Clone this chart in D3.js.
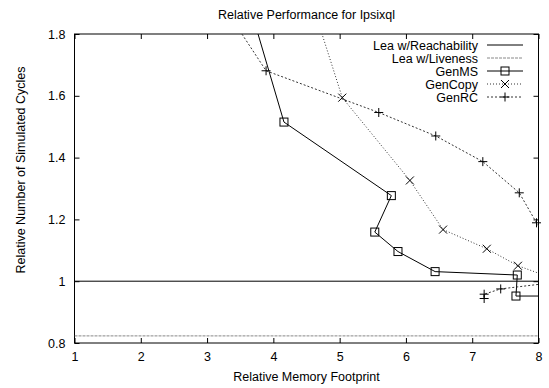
<!DOCTYPE html>
<html>
<head>
<meta charset="utf-8">
<script src="https://cdn.jsdelivr.net/npm/d3@7"></script>
<style>
  body { margin: 0; background: #fff; }
  svg { display: block; font-family: "Liberation Sans", Arial, sans-serif; }
  .tick text { font-size: 12.5px; fill: #000; }
</style>
</head>
<body>
<div id="chart"></div>
<script>
// values (points past the frame are clipped, as gnuplot does)
const xTicks = [1, 2, 3, 4, 5, 6, 7, 8];
const yTicks = [0.8, 1.0, 1.2, 1.4, 1.6, 1.8];

const leaReachability = 1.0;
const leaLiveness = 0.823;

const genMSX = [3.22, 4.16, 5.78, 5.53, 5.88, 6.44, 7.68, 7.66, 8.5];
const genMSY = [2.2, 1.515, 1.277, 1.159, 1.096, 1.031, 1.020, 0.952, 0.952];

const genCopyX = [4.14, 5.04, 6.06, 6.56, 7.22, 7.69, 8.4];
const genCopyY = [2.2, 1.594, 1.326, 1.167, 1.105, 1.05, 0.995];

const genRCX = [2.3, 3.89, 5.59, 6.45, 7.16, 7.71, 7.97, 8.4, 8.4, 7.43, 7.18, 7.18];
const genRCY = [2.2, 1.681, 1.546, 1.47, 1.387, 1.286, 1.189, 1.05, 1.0, 0.975, 0.958, 0.944];

const seriesNames = ["Lea w/Reachability", "Lea w/Liveness", "GenMS", "GenCopy", "GenRC"];

const width = 549, height = 388;
const margin = { top: 34, right: 10.5, bottom: 45, left: 74.5 };
const w = width - margin.left - margin.right;
const h = height - margin.top - margin.bottom;
const fontSize = "12.5px";

const svg = d3.select("#chart").append("svg")
  .attr("width", width)
  .attr("height", height);

svg.append("defs").append("clipPath").attr("id", "clip")
  .append("rect").attr("width", w).attr("height", h);

const g = svg.append("g").attr("transform", `translate(${margin.left},${margin.top})`);

const x = d3.scaleLinear().domain([1, 8]).range([0, w]);
const y = d3.scaleLinear().domain([0.8, 1.8]).range([h, 0]);

const fmt = (d) => String(+d.toFixed(1));

// axes, ticks pointing inwards and mirrored
g.append("g").attr("transform", `translate(0,${h})`)
  .call(d3.axisBottom(x).tickValues(xTicks).tickSize(-5).tickPadding(9).tickFormat(fmt))
  .call((s) => s.select(".domain").remove());
g.append("g")
  .call(d3.axisTop(x).tickValues(xTicks).tickSize(-5).tickFormat(""))
  .call((s) => s.select(".domain").remove());
g.append("g")
  .call(d3.axisLeft(y).tickValues(yTicks).tickSize(-5).tickPadding(9).tickFormat(fmt))
  .call((s) => s.select(".domain").remove());
g.append("g").attr("transform", `translate(${w},0)`)
  .call(d3.axisRight(y).tickValues(yTicks).tickSize(-5).tickFormat(""))
  .call((s) => s.select(".domain").remove());

g.selectAll(".tick line").attr("stroke", "#000");

g.append("rect")
  .attr("width", w).attr("height", h)
  .attr("fill", "none").attr("stroke", "#000").attr("stroke-width", 1);

// titles
svg.append("text")
  .attr("x", margin.left + w / 2).attr("y", 18.5)
  .attr("text-anchor", "middle").style("font-size", fontSize)
  .text("Relative Performance for Ipsixql");
svg.append("text")
  .attr("x", margin.left + w / 2).attr("y", 381)
  .attr("text-anchor", "middle").style("font-size", fontSize)
  .text("Relative Memory Footprint");
svg.append("text")
  .attr("transform", "translate(24.5,170) rotate(-90)")
  .attr("text-anchor", "middle").style("font-size", fontSize)
  .text("Relative Number of Simulated Cycles");

const styles = [
  { stroke: "#000", dash: null },
  { stroke: "#888", dash: "3,1" },
  { stroke: "#000", dash: null },
  { stroke: "#333", dash: "1,2" },
  { stroke: "#333", dash: "2,2" }
];

const plot = g.append("g").attr("clip-path", "url(#clip)");

// constant lines
plot.append("line")
  .attr("x1", x(1)).attr("x2", x(8))
  .attr("y1", y(leaReachability)).attr("y2", y(leaReachability))
  .attr("stroke", styles[0].stroke);
plot.append("line")
  .attr("x1", x(1)).attr("x2", x(8))
  .attr("y1", y(leaLiveness)).attr("y2", y(leaLiveness))
  .attr("stroke", styles[1].stroke).attr("stroke-dasharray", styles[1].dash);

const line = d3.line().x((d) => x(d[0])).y((d) => y(d[1]));
const zip = (xs, ys) => xs.map((v, i) => [v, ys[i]]);

const series = [
  { pts: zip(genMSX, genMSY), style: styles[2], mark: "square" },
  { pts: zip(genCopyX, genCopyY), style: styles[3], mark: "cross" },
  { pts: zip(genRCX, genRCY), style: styles[4], mark: "plus" }
];

function drawMark(sel, type, cx, cy) {
  if (type === "square") {
    sel.append("rect").attr("x", cx - 4).attr("y", cy - 4)
      .attr("width", 8).attr("height", 8)
      .attr("fill", "none").attr("stroke", "#000");
  } else if (type === "cross") {
    sel.append("path")
      .attr("d", `M${cx - 4},${cy - 4}L${cx + 4},${cy + 4}M${cx - 4},${cy + 4}L${cx + 4},${cy - 4}`)
      .attr("stroke", "#000").attr("fill", "none");
  } else {
    sel.append("path")
      .attr("d", `M${cx - 4.5},${cy}L${cx + 4.5},${cy}M${cx},${cy - 4.5}L${cx},${cy + 4.5}`)
      .attr("stroke", "#000").attr("fill", "none");
  }
}

const inRange = (d) => d[0] >= 1 && d[0] <= 8 && d[1] >= 0.8 && d[1] <= 1.8;

series.forEach((s) => {
  plot.append("path")
    .datum(s.pts)
    .attr("d", line)
    .attr("fill", "none")
    .attr("stroke", s.style.stroke)
    .attr("stroke-dasharray", s.style.dash);
  const mg = g.append("g");
  s.pts.filter(inRange).forEach((d) => drawMark(mg, s.mark, x(d[0]), y(d[1])));
});

// legend
const legend = svg.append("g");
const marks = [null, null, "square", "cross", "plus"];
seriesNames.forEach((name, i) => {
  const cy = 45 + i * 13;
  legend.append("text")
    .attr("x", 478).attr("y", cy + 4.5)
    .attr("text-anchor", "end").style("font-size", fontSize)
    .text(name);
  legend.append("line")
    .attr("x1", 487).attr("x2", 523).attr("y1", cy).attr("y2", cy)
    .attr("stroke", styles[i].stroke)
    .attr("stroke-dasharray", styles[i].dash);
  if (marks[i]) drawMark(legend, marks[i], 505, cy);
});
</script>
</body>
</html>
